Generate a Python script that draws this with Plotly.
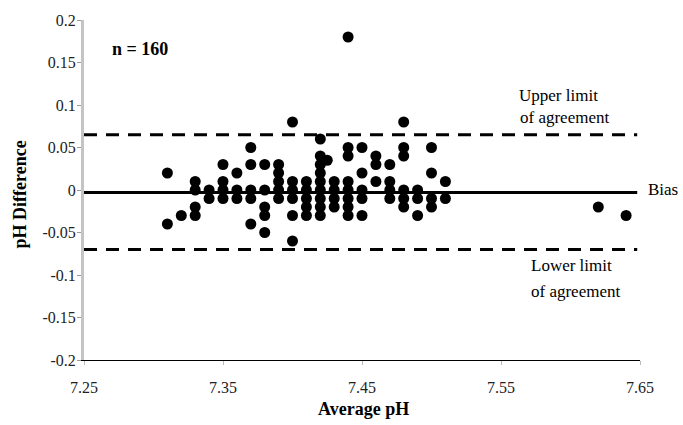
import plotly.graph_objects as go

# ---- data ----
avg_ph = (
    [7.31] * 2 + [7.32] * 1 + [7.33] * 4 + [7.34] * 2 + [7.35] * 4 + [7.36] * 3 +
    [7.37] * 5 + [7.38] * 5 + [7.39] * 5 + [7.40] * 6 + [7.41] * 5 + [7.42] * 9 +
    [7.425] * 1 + [7.43] * 4 + [7.44] * 8 + [7.45] * 5 + [7.46] * 3 + [7.47] * 4 +
    [7.48] * 6 + [7.49] * 3 + [7.50] * 4 + [7.51] * 2 + [7.62] + [7.64]
)
ph_diff = (
    [0.02, -0.04] +
    [-0.03] +
    [0.01, 0.0, -0.02, -0.03] +
    [0.0, -0.01] +
    [0.03, 0.01, 0.0, -0.01] +
    [0.02, 0.0, -0.01] +
    [0.05, 0.03, 0.0, -0.01, -0.04] +
    [0.03, 0.0, -0.02, -0.03, -0.05] +
    [0.03, 0.02, 0.01, 0.0, -0.01] +
    [0.08, 0.01, 0.0, -0.01, -0.03, -0.06] +
    [0.01, 0.0, -0.01, -0.02, -0.03] +
    [0.06, 0.04, 0.03, 0.02, 0.01, 0.0, -0.01, -0.02, -0.03] +
    [0.035] +
    [0.01, 0.0, -0.01, -0.02] +
    [0.18, 0.05, 0.04, 0.01, 0.0, -0.01, -0.02, -0.03] +
    [0.05, 0.02, 0.0, -0.01, -0.03] +
    [0.04, 0.03, 0.01] +
    [0.03, 0.01, 0.0, -0.01] +
    [0.08, 0.05, 0.04, 0.0, -0.01, -0.02] +
    [0.0, -0.01, -0.03] +
    [0.05, 0.02, -0.01, -0.02] +
    [0.01, -0.01] +
    [-0.02] +
    [-0.03]
)
bias = -0.003
upper_loa = 0.065
lower_loa = -0.07

x_tick_vals = [7.25, 7.35, 7.45, 7.55, 7.65]
x_tick_text = ["7.25", "7.35", "7.45", "7.55", "7.65"]
y_tick_vals = [0.2, 0.15, 0.1, 0.05, 0.0, -0.05, -0.1, -0.15, -0.2]
y_tick_text = ["0.2", "0.15", "0.1", "0.05", "0", "-0.05", "-0.1", "-0.15", "-0.2"]

x_title = "Average pH"
y_title = "pH Difference"
n_text = "n = 160"

# ---- layout geometry (pixels) ----
W, H = 683, 425
L, R, T, B = 84, 43, 15, 65
PW, PH = W - L - R, H - T - B


def px(x):
    return (x - L) / PW


def py(y):
    return (H - B - y) / PH


SERIF = "Liberation Serif, Times New Roman, serif"

fig = go.Figure()
fig.add_trace(go.Scatter(
    x=avg_ph, y=ph_diff, mode="markers",
    marker=dict(color="black", size=11, line=dict(width=0)),
    hoverinfo="x+y", showlegend=False,
))

line_end = 0.995
fig.add_shape(type="line", xref="paper", yref="y", x0=0, x1=line_end,
              y0=upper_loa, y1=upper_loa,
              line=dict(color="black", width=3, dash="13px,9px"))
fig.add_shape(type="line", xref="paper", yref="y", x0=0, x1=line_end,
              y0=lower_loa, y1=lower_loa,
              line=dict(color="black", width=3, dash="13px,9px"))
fig.add_shape(type="line", xref="paper", yref="y", x0=0, x1=line_end,
              y0=bias, y1=bias,
              line=dict(color="black", width=3))

annos = [
    dict(text="Upper limit", x=px(517), y=py(92), xanchor="left", font_size=17),
    dict(text="of agreement", x=px(518), y=py(114), xanchor="left", font_size=17),
    dict(text="Bias", x=px(646), y=py(187), xanchor="left", font_size=17),
    dict(text="Lower limit", x=px(529), y=py(264), xanchor="left", font_size=17),
    dict(text="of agreement", x=px(529), y=py(290), xanchor="left", font_size=17),
    dict(text="<b>" + n_text + "</b>", x=px(140), y=py(44), xanchor="center", font_size=18),
    dict(text="<b>" + x_title + "</b>", x=px(363), y=py(410), xanchor="center", font_size=18),
    dict(text="<b>" + y_title + "</b>", x=px(20), y=py(192), xanchor="center", font_size=18,
         textangle=-90),
]
for a in annos:
    fs = a.pop("font_size")
    fig.add_annotation(xref="paper", yref="paper", yanchor="middle", showarrow=False,
                       font=dict(family=SERIF, size=fs, color="black"), **a)

fig.update_layout(
    width=W, height=H,
    margin=dict(l=L, r=R, t=T, b=B, pad=0),
    paper_bgcolor="white", plot_bgcolor="white",
    font=dict(family=SERIF, color="#222"),
    xaxis=dict(range=[7.25, 7.65], tickvals=x_tick_vals, ticktext=x_tick_text,
               showgrid=False, zeroline=False, showline=True, linecolor="black",
               linewidth=1, ticks="outside", ticklen=4, tickcolor="#bbb",
               tickfont=dict(size=16), ticklabelstandoff=9),
    yaxis=dict(range=[-0.2, 0.2], tickvals=y_tick_vals, ticktext=y_tick_text,
               showgrid=False, zeroline=False, showline=True, linecolor="#c4c4c4",
               linewidth=3, ticks="outside", ticklen=4, tickcolor="#999",
               tickfont=dict(size=16), ticklabelstandoff=-2),
)

fig.write_html("out.html",
               config={"displayModeBar": False},
               post_script="document.body.style.margin='0';document.body.style.overflow='hidden';")
